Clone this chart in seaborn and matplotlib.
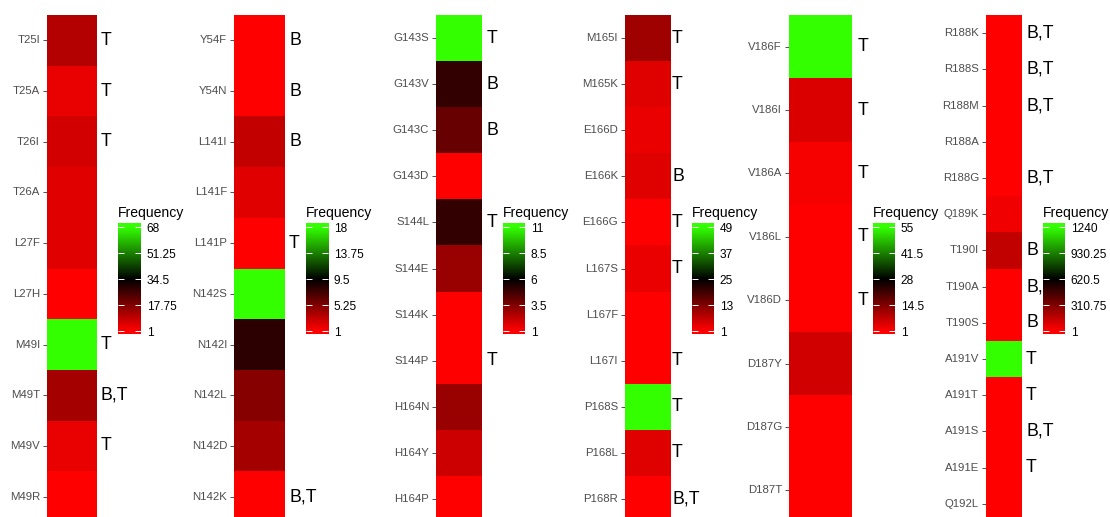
import numpy as np
import pandas as pd
import matplotlib
matplotlib.use("Agg")
import matplotlib.pyplot as plt
import matplotlib.transforms as mtransforms
from matplotlib.colors import LinearSegmentedColormap
import seaborn as sns

# ---------------- data ----------------
p1_labels = ["T25I", "T25A", "T26I", "T26A", "L27F", "L27H", "M49I", "M49T", "M49V", "M49R"]
p1_values = [11, 4, 7, 5, 5, 1, 68, 13, 4, 1]
p1_notes = ["T", "T", "T", "", "", "", "T", "B,T", "T", ""]

p2_labels = ["Y54F", "Y54N", "L141I", "L141F", "L141P", "N142S", "N142I", "N142L", "N142D", "N142K"]
p2_values = [1, 1, 3, 2, 1, 18, 8, 5, 4, 1]
p2_notes = ["B", "B", "B", "", "T", "", "", "", "", "B,T"]

p3_labels = ["G143S", "G143V", "G143C", "G143D", "S144L", "S144E", "S144K", "S144P", "H164N", "H164Y", "H164P"]
p3_values = [11, 5, 4, 1, 5, 3, 1, 1, 3, 2, 1]
p3_notes = ["T", "B", "B", "", "T", "", "", "T", "", "", ""]

p4_labels = ["M165I", "M165K", "E166D", "E166K", "E166G", "L167S", "L167F", "L167I", "P168S", "P168L", "P168R"]
p4_values = [10, 4, 3, 4, 1, 3, 1, 1, 49, 4, 1]
p4_notes = ["T", "T", "", "B", "T", "T", "", "T", "T", "T", "B,T"]

p5_labels = ["V186F", "V186I", "V186A", "V186L", "V186D", "D187Y", "D187G", "D187T"]
p5_values = [55, 5, 2, 1, 1, 6, 1, 1]
p5_notes = ["T", "T", "T", "T", "T", "", "", ""]

p6_labels = ["R188K", "R188S", "R188M", "R188A", "R188G", "Q189K", "T190I", "T190A", "T190S",
             "A191V", "A191T", "A191S", "A191E", "Q192L"]
p6_values = [1, 1, 1, 1, 1, 37, 154, 1, 1, 1240, 1, 1, 1, 1]
p6_notes = ["B,T", "B,T", "B,T", "", "B,T", "", "B", "B,T", "B", "T", "T", "B,T", "T", ""]

panels = [
    (p1_labels, p1_values, p1_notes),
    (p2_labels, p2_values, p2_notes),
    (p3_labels, p3_values, p3_notes),
    (p4_labels, p4_values, p4_notes),
    (p5_labels, p5_values, p5_notes),
    (p6_labels, p6_values, p6_notes),
]

# ---------------- style / layout ----------------
sns.set_theme(style="white")
plt.rcParams["font.family"] = ["Liberation Sans", "DejaVu Sans"]

W, H = 1110, 517
fig = plt.figure(figsize=(W / 100, H / 100), dpi=100)
cmap = LinearSegmentedColormap.from_list("red_black_green", ["#FF0000", "#000000", "#33FF00"])

heat_x = [(47, 97), (234, 285), (436, 482), (625, 671), (789, 852), (986, 1022)]
cbar_x = [(118, 141), (306, 328), (503, 525), (692, 714), (873, 895), (1043, 1065)]
note_gap = [4, 4, 5, 1, 6, 4]
top_px, bot_px = 15, 522
cb_top, cb_bot = 223, 334
tick_top, tick_bot = 227, 331  # where the first / last colour-bar ticks sit

for (labels, values, notes), (hx0, hx1), (cx0, cx1), gap in zip(panels, heat_x, cbar_x, note_gap):
    ax = fig.add_axes([hx0 / W, 1 - bot_px / H, (hx1 - hx0) / W, (bot_px - top_px) / H])
    cax = fig.add_axes([cx0 / W, 1 - cb_bot / H, (cx1 - cx0) / W, (cb_bot - cb_top) / H])
    df = pd.DataFrame({"Frequency": values}, index=labels)
    vmin, vmax = min(values), max(values)
    sns.heatmap(df, ax=ax, cbar=False, cmap=cmap, vmin=vmin, vmax=vmax,
                xticklabels=False, yticklabels=True)
    ax.set_xlabel("")
    ax.set_ylabel("")
    ax.tick_params(axis="y", left=True, length=3, width=0.6, color="#333333",
                   labelcolor="#4D4D4D", labelsize=8.2, pad=2, labelrotation=0)
    ax.tick_params(axis="x", bottom=False)

    trans = mtransforms.blended_transform_factory(ax.transAxes, ax.transData)
    for i, n in enumerate(notes):
        if n:
            ax.annotate(n, xy=(1, i + 0.5), xycoords=trans, xytext=(gap * 0.72, 0),
                        textcoords="offset points", ha="left", va="center",
                        fontsize=12.8, color="black", annotation_clip=False)

    # colour bar (ggplot-like: bar extends a little beyond the end ticks)
    span = vmax - vmin
    per_px = span / (tick_bot - tick_top)
    lo = vmin - (cb_bot - tick_bot) * per_px
    hi = vmax + (tick_top - cb_top) * per_px
    grad = np.linspace(lo, hi, 300)[:, None]
    cax.imshow(grad, extent=[0, 1, lo, hi], origin="lower", aspect="auto",
               cmap=cmap, vmin=vmin, vmax=vmax, interpolation="bilinear")
    cax.set_xlim(0, 1)
    cax.set_ylim(lo, hi)
    ticks = np.linspace(vmin, vmax, 5)
    cax.set_yticks(ticks)
    cax.set_yticklabels([f"{t:g}" for t in ticks])
    cax.set_xticks([])
    cax.yaxis.tick_right()
    cax.tick_params(axis="y", which="both", direction="in", left=True, right=True,
                    length=4, width=0.7, color="white", labelsize=8.6,
                    labelcolor="black", pad=4)
    for sp in cax.spines.values():
        sp.set_visible(False)
    cax.annotate("Frequency", xy=(0, 1), xycoords="axes fraction", xytext=(0, 2),
                 textcoords="offset points", ha="left", va="bottom", fontsize=10.1,
                 color="black", annotation_clip=False)

fig.savefig("out.png", dpi=100)
